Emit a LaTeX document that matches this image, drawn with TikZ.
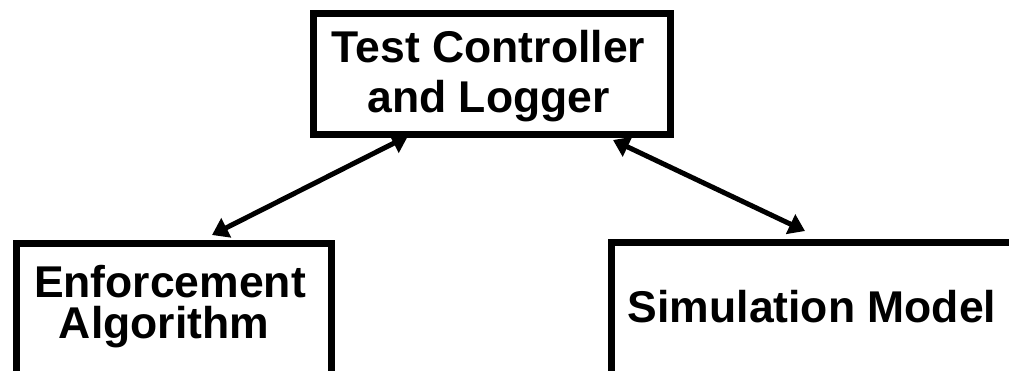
\documentclass[tikz,border=0pt]{standalone}
\usepackage{fontspec}
\setmainfont{Liberation Sans}
\usetikzlibrary{arrows.meta}
\begin{document}
\begin{tikzpicture}[x=1pt,y=-1pt,
  boxline/.style={draw=black,line width=6.5pt,rectangle,inner sep=0pt,anchor=north west},
  lbl/.style={anchor=base,inner sep=0pt,font=\fontsize{44.5}{44}\selectfont\bfseries},
  link/.style={line width=5pt,{Triangle[length=16pt,width=21pt]}-{Triangle[length=16pt,width=21pt]}}]
\useasboundingbox (0,0) rectangle (1009,370);
\fill[white] (0,0) rectangle (1009,370);
\clip (0,0) rectangle (1009,370);
% boxes
\node[boxline,minimum width=357pt,minimum height=121pt] (tc) at (310,10) {};
\node[boxline,minimum width=315pt,minimum height=160pt] (ea) at (13,240) {};
\node[boxline,minimum width=450pt,minimum height=160pt] (sm) at (608,239) {};
% labels
\node[lbl] (tc1) at (488.5,62) {Test Controller};
\node[lbl] (tc2) at (488.5,112) {and Logger};
\node[lbl] (ea1) at (170,297) {Enforcement};
\node[lbl] (ea2) at (164,338) {Algorithm};
\node[lbl] (sm1) at (812,322) {Simulation Model};
% arrow ends
\coordinate (la) at (408,136);
\coordinate (lb) at (212,235);
\coordinate (ra) at (613,140);
\coordinate (rb) at (805,231);
\draw[link] (la) -- (lb);
\draw[link] (ra) -- (rb);
\end{tikzpicture}
\end{document}
